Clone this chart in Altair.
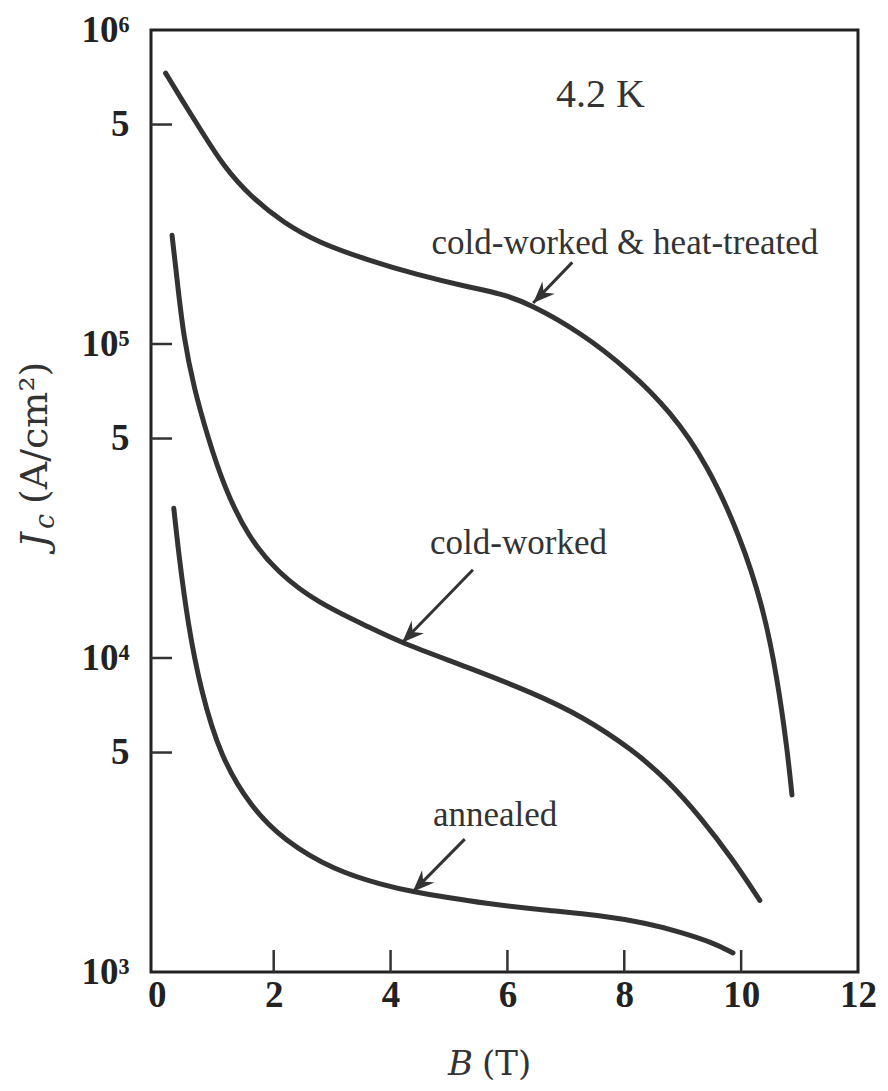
import altair as alt
import pandas as pd

# ---- data ----
B_heat = [0.15, 0.46, 0.75, 1.15, 1.61, 2.17, 2.75, 3.61, 4.46, 5.32, 5.88, 6.39, 7.25, 8.10, 8.79, 9.42, 9.98, 10.38, 10.62, 10.79, 10.87]
J_heat = [7.29e5, 5.86e5, 4.81e5, 3.66e5, 2.94e5, 2.43e5, 2.11e5, 1.85e5, 1.66e5, 1.52e5, 1.45e5, 1.34e5, 1.09e5, 8.2e4, 6.1e4, 4.15e4, 2.45e4, 1.45e4, 8.6e3, 5.1e3, 3.66e3]

B_cold = [0.26, 0.36, 0.46, 0.63, 0.87, 1.15, 1.56, 2.07, 2.75, 3.61, 4.17, 5.32, 6.44, 7.30, 8.15, 8.74, 9.30, 9.86, 10.32]
J_cold = [2.22e5, 1.52e5, 1.05e5, 7.3e4, 5.06e4, 3.51e4, 2.43e4, 1.87e4, 1.50e4, 1.26e4, 1.12e4, 9.35e3, 7.74e3, 6.49e3, 5.09e3, 4.08e3, 3.12e3, 2.28e3, 1.69e3]

B_ann = [0.29, 0.38, 0.53, 0.75, 1.09, 1.61, 2.17, 3.03, 3.88, 4.39, 5.03, 5.54, 6.68, 7.54, 8.39, 8.96, 9.52, 9.86]
J_ann = [3.0e4, 2.10e4, 1.29e4, 7.9e3, 4.84e3, 3.35e3, 2.63e3, 2.11e3, 1.89e3, 1.80e3, 1.72e3, 1.66e3, 1.57e3, 1.52e3, 1.43e3, 1.34e3, 1.24e3, 1.15e3]

x_ticks = [0, 2, 4, 6, 8, 10, 12]
y_ticks = [1e3, 5e3, 1e4, 5e4, 1e5, 5e5, 1e6]
inner_x_ticks = [2, 4, 6, 8, 10]
inner_y_ticks = [5e3, 1e4, 5e4, 1e5, 5e5]

labels = ["4.2 K", "cold-worked & heat-treated", "cold-worked", "annealed"]
label_B = [7.59, 8.01, 6.19, 5.79]
label_J = [6.2e5, 2.1e5, 2.32e4, 3.16e3]
label_size = [40, 35, 35, 35]

arrow_id = [1, 1, 2, 2, 3, 3]
arrow_B = [7.11, 6.44, 5.41, 4.20, 5.27, 4.38]
arrow_J = [1.82e5, 1.35e5, 1.91e4, 1.12e4, 2.65e3, 1.80e3]
tip_B = [6.44, 4.20, 4.38]
tip_J = [1.35e5, 1.12e4, 1.80e3]

W, H = 707, 942
INK = "#333333"
SERIF = "Liberation Serif"
TSERIF = "DejaVu Serif"

curves = pd.concat([
    pd.DataFrame({"B": B_heat, "J": J_heat, "s": "heat"}),
    pd.DataFrame({"B": B_cold, "J": J_cold, "s": "cold"}),
    pd.DataFrame({"B": B_ann, "J": J_ann, "s": "ann"}),
])

xs = alt.Scale(domain=[-0.1, 12], nice=False, zero=False)
ys = alt.Scale(type="log", domain=[1e3, 1e6], nice=False)

y_label_expr = ("datum.value == 1000 ? '10³' : datum.value == 10000 ? '10⁴' : "
                "datum.value == 100000 ? '10⁵' : datum.value == 1000000 ? '10⁶' : '5\u2009\u2009'")

lines = alt.Chart(curves).mark_line(
    interpolate="basis", strokeWidth=5, strokeCap="round", color=INK
).encode(
    x=alt.X("B:Q", scale=xs, axis=alt.Axis(
        values=x_ticks, format="d", ticks=False, domain=False, grid=False, title=None,
        labelFont=SERIF, labelFontWeight="bold", labelFontSize=37, labelColor="#222",
        labelPadding=5, labelFlush=False, labelOverlap=False)),
    y=alt.Y("J:Q", scale=ys, axis=alt.Axis(
        values=y_ticks, labelExpr=y_label_expr, ticks=False, domain=False, grid=False,
        title=None, labelFont=SERIF, labelFontWeight="bold", labelFontSize=37,
        labelColor="#222", labelPadding=22, labelFlush=False, labelOverlap=False)),
    detail="s:N",
)

xt = alt.Chart(pd.DataFrame({"B": inner_x_ticks})).mark_rule(strokeWidth=2.5, color=INK).encode(
    x=alt.X("B:Q", scale=xs), y=alt.value(H), y2=alt.value(H - 22))
yt = alt.Chart(pd.DataFrame({"J": inner_y_ticks})).mark_rule(strokeWidth=2.5, color=INK).encode(
    y=alt.Y("J:Q", scale=ys), x=alt.value(0), x2=alt.value(21))

txt = alt.Chart(pd.DataFrame({"t": labels, "B": label_B, "J": label_J, "fs": label_size})).mark_text(
    font=SERIF, color=INK, baseline="middle", align="center"
).encode(
    x=alt.X("B:Q", scale=xs), y=alt.Y("J:Q", scale=ys), text="t:N",
    size=alt.Size("fs:Q", scale=None, legend=None))

shafts = alt.Chart(pd.DataFrame({"a": arrow_id, "B": arrow_B, "J": arrow_J})).mark_line(
    strokeWidth=3, color=INK
).encode(x=alt.X("B:Q", scale=xs), y=alt.Y("J:Q", scale=ys), detail="a:N")

heads = alt.Chart(pd.DataFrame({"B": tip_B, "J": tip_J})).mark_point(
    shape="M0,0 L-0.8,2 L0,1.35 L0.8,2 Z", filled=True, opacity=1,
    size=480, angle=225, color=INK
).encode(x=alt.X("B:Q", scale=xs), y=alt.Y("J:Q", scale=ys))

# axis titles (composite text for italic symbol and subscript)
t_J = alt.Chart(pd.DataFrame({"t": ["J"]})).mark_text(
    font=TSERIF, fontStyle="italic", fontSize=38, angle=270, align="left", baseline="alphabetic", color=INK
).encode(text="t:N", x=alt.value(-104), y=alt.value(518))
t_c = alt.Chart(pd.DataFrame({"t": ["c"]})).mark_text(
    font=TSERIF, fontStyle="italic", fontSize=27, angle=270, align="left", baseline="alphabetic", color=INK
).encode(text="t:N", x=alt.value(-97), y=alt.value(499))
t_unit = alt.Chart(pd.DataFrame({"t": ["(A/cm²)"]})).mark_text(
    font=TSERIF, fontSize=38, angle=270, align="left", baseline="alphabetic", color=INK
).encode(text="t:N", x=alt.value(-104), y=alt.value(474))
t_B = alt.Chart(pd.DataFrame({"t": ["B"]})).mark_text(
    font=TSERIF, fontStyle="italic", fontSize=34, align="right", baseline="alphabetic", color=INK
).encode(text="t:N", x=alt.value(322), y=alt.value(1045))
t_T = alt.Chart(pd.DataFrame({"t": ["(T)"]})).mark_text(
    font=TSERIF, fontSize=34, align="left", baseline="alphabetic", color=INK
).encode(text="t:N", x=alt.value(331), y=alt.value(1045))

chart = alt.layer(lines, xt, yt, txt, shafts, heads, t_J, t_c, t_unit, t_B, t_T).properties(
    width=W, height=H,
    autosize=alt.AutoSizeParams(type="none"),
    padding={"left": 143, "top": 22, "right": 22, "bottom": 111},
    background="white",
).configure_view(stroke="#222", strokeWidth=3)

chart.save("out.html", embed_options={"renderer": "svg", "actions": False})
